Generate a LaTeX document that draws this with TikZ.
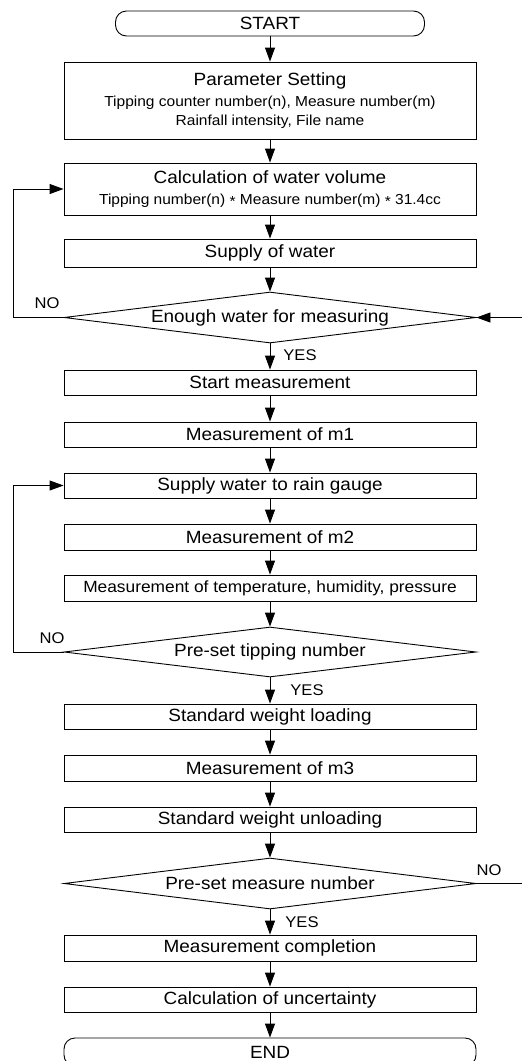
\documentclass[tikz,border=0pt]{standalone}
\usepackage{fontspec}
\setmainfont{Liberation Sans}[FakeStretch=1.07]
\usetikzlibrary{arrows.meta,shapes.geometric}
\newcommand\fmain{\fontsize{17.7}{20}\selectfont}
\newcommand\fsmall{\fontsize{14.5}{17}\selectfont}
\newcommand\fmid{\fontsize{16.2}{19}\selectfont}
\newcommand\flab{\fontsize{15.5}{18}\selectfont}
\newcommand\cstar{\raisebox{-0.3ex}{*}}
\begin{document}
\begin{tikzpicture}[x=1pt,y=-1pt,
  box/.style={draw, line width=0.9pt, minimum width=412pt, inner sep=0pt, font=\fmain, align=center},
  term/.style={draw, line width=0.9pt, rounded corners=11pt, inner sep=0pt, font=\fmain},
  decision/.style={draw, diamond, line width=0.9pt, minimum width=412pt, minimum height=51pt, inner sep=0pt},
  arr/.style={-{Triangle[length=14pt,width=10pt]}, line width=0.9pt},
  lbl/.style={font=\flab, inner sep=0pt}]
\clip (0,0) rectangle (522,1061);
% nodes
\node[term, minimum width=309pt, minimum height=25pt] (start) at (270,23.5) {START};
\node[box, minimum height=77pt] (param) at (270,100.5) {Parameter Setting\\[1pt]
  {\fsmall Tipping counter number(n), Measure number(m)}\\[-1pt]
  {\fsmall Rainfall intensity, File name}};
\node[box, minimum height=52pt] (calc) at (270,189) {Calculation of water volume\\[1pt]
  {\fsmall Tipping number(n) \cstar{} Measure number(m) \cstar{} 31.4cc}};
\node[box, minimum height=28pt] (supply) at (270,253) {Supply of water};
\node[decision, label={[font=\fmain]center:Enough water for measuring}] (d1) at (270,317.5) {};
\node[box, minimum height=25pt] (smeas) at (270,382.5) {Start measurement};
\node[box, minimum height=25pt] (m1) at (270,434.5) {Measurement of m1};
\node[box, minimum height=25pt] (swater) at (270,485.5) {Supply water to rain gauge};
\node[box, minimum height=26pt] (m2) at (270,537) {Measurement of m2};
\node[box, minimum height=26pt, font=\fmid] (temp) at (270,588) {Measurement of temperature, humidity, pressure};
\node[decision, minimum height=50pt, label={[font=\fmain]center:Pre-set tipping number}] (d2) at (270,652) {};
\node[box, minimum height=25pt] (load) at (270,716.5) {Standard weight loading};
\node[box, minimum height=26pt] (m3) at (270,768) {Measurement of m3};
\node[box, minimum height=25pt] (unload) at (270,819.5) {Standard weight unloading};
\node[decision, label={[font=\fmain]center:Pre-set measure number}] (d3) at (270,883.5) {};
\node[box, minimum height=26pt] (compl) at (270,948) {Measurement completion};
\node[box, minimum height=25pt] (unc) at (270,999.5) {Calculation of uncertainty};
\node[term, minimum width=412pt, minimum height=28pt] (end) at (270,1052) {END};
% labels
\node[lbl] (no1) at (47,303) {NO};
\node[lbl] (no2) at (52,638) {NO};
\node[lbl] (no3) at (489,870) {NO};
\node[lbl] (yes1) at (300,355) {YES};
\node[lbl] (yes2) at (307,690) {YES};
\node[lbl] (yes3) at (302,922) {YES};
% connectors
\draw[arr] (start) -- (param);
\draw[arr] (param) -- (calc);
\draw[arr] (calc) -- (supply);
\draw[arr] (supply) -- (d1);
\draw[arr] (d1) -- (smeas);
\draw[arr] (smeas) -- (m1);
\draw[arr] (m1) -- (swater);
\draw[arr] (swater) -- (m2);
\draw[arr] (m2) -- (temp);
\draw[arr] (temp) -- (d2);
\draw[arr] (d2) -- (load);
\draw[arr] (load) -- (m3);
\draw[arr] (m3) -- (unload);
\draw[arr] (unload) -- (d3);
\draw[arr] (d3) -- (compl);
\draw[arr] (compl) -- (unc);
\draw[arr] (unc) -- (end);
\draw[arr] (d1.west) -- (13,317.5) |- (calc.west);
\draw[arr] (d2.west) -- (13,652) |- (swater.west);
\draw[arr] (d3.east) -- (530,883.5) |- (d1.east);
\end{tikzpicture}
\end{document}
